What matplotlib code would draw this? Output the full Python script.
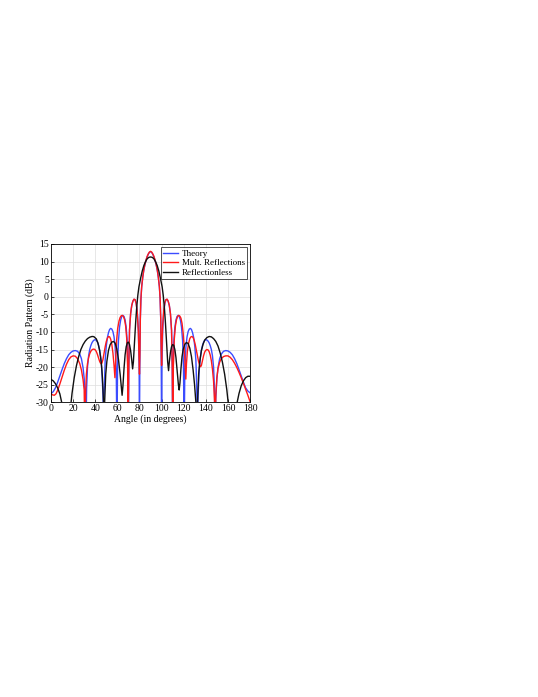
import numpy as np
import matplotlib
matplotlib.use("Agg")
from matplotlib import pyplot as plt

# dB vs angle
theory_deg = [0, 2, 4, 6, 8, 10, 12, 14, 16, 18, 20, 22, 24, 26, 27.5, 29, 30, 31, 31.6,
              32.2, 33, 34, 35, 36, 37, 38, 39, 40, 41, 42, 43, 44, 45, 46, 47, 47.6,
              48.2, 49, 50, 51, 52, 53, 54, 55, 56, 57, 58, 59, 59.6,
              60.2, 61, 62, 63, 64, 65, 66, 67, 68, 69, 69.7, 70,
              70.4, 71, 72, 73, 74, 75, 76, 77, 78, 79, 79.7, 80,
              80.3, 80.7, 81.3, 82, 83, 84, 85, 86, 87, 88, 89, 90,
              91, 92, 93, 94, 95, 96, 97, 98, 98.7, 99.3, 99.7, 100,
              100.3, 101, 102, 103, 104, 105, 106, 107, 108, 109, 109.6, 110,
              110.3, 111, 112, 113, 114, 115, 116, 117, 118, 119, 119.8, 120.4,
              121, 122, 123, 124, 125, 126, 127, 128, 129, 130, 131, 131.8, 132.4,
              133, 134, 135, 136, 137, 138, 139, 140, 141, 142, 143, 144, 145, 146, 147, 147.8, 148.4,
              149, 150, 151, 152.5, 154, 156, 158, 160, 162, 164, 166, 168, 170, 172, 174, 176, 178, 180]
theory_db = [-27.5, -27.0, -25.9, -24.3, -22.5, -20.7, -19.0, -17.6, -16.5, -15.8, -15.4, -15.3, -15.5, -16.3, -17.6, -20.2, -23.2, -29, -40,
             -26, -20, -16.8, -15, -13.9, -13.1, -12.6, -12.3, -12.2, -12.4, -12.9, -13.8, -15.2, -17.3, -21, -28, -40,
             -26, -18, -14, -11.6, -10.2, -9.3, -9.0, -9.2, -9.9, -11.4, -14.3, -21, -40,
             -20, -12.5, -8.6, -6.6, -5.6, -5.3, -5.6, -6.6, -8.7, -13, -24, -40,
             -20, -9.5, -4.8, -2.5, -1.3, -0.75, -0.8, -1.8, -4.2, -9.5, -20, -40,
             -20, -7, -1, 2.8, 5.6, 7.7, 9.2, 10.4, 11.4, 12.1, 12.6, 12.8,
             12.6, 12.1, 11.4, 10.4, 9.2, 7.7, 5.6, 2.8, -1, -7, -20, -40,
             -20, -9.5, -4.2, -1.8, -0.8, -0.75, -1.3, -2.5, -4.8, -9.5, -20, -40,
             -24, -13, -8.7, -6.6, -5.6, -5.3, -5.6, -6.6, -8.6, -12.5, -20, -40,
             -21, -14.3, -11.4, -9.9, -9.2, -9.0, -9.3, -10.2, -11.6, -14, -18, -26, -40,
             -28, -21, -17.3, -15.2, -13.8, -12.9, -12.4, -12.2, -12.3, -12.6, -13.1, -13.9, -15, -16.8, -20, -26, -40,
             -29, -23.2, -20.2, -17.6, -16.3, -15.5, -15.3, -15.4, -15.8, -16.5, -17.6, -19.0, -20.7, -22.5, -24.3, -25.9, -26.8, -27.3]

mult_deg = [0, 1.5, 3, 4.5, 6, 8, 10, 12, 14, 16, 18, 20, 22, 24, 26, 27.5, 29, 30, 30.6,
            31.3, 32, 33, 34, 35, 36, 37, 38, 39, 40, 41, 42, 43, 44, 45, 46, 47, 48, 49,
            50, 51, 52, 53, 54, 55, 56, 57, 57.8, 58.5, 59.3, 60.3, 61.5, 62.5, 63.5, 64.5,
            65.5, 66.5, 67.5, 68.5, 69.3, 69.7, 70.2, 71, 72, 73, 74, 75, 76, 77, 78, 79,
            79.6, 80, 80.4, 80.8, 81.3, 82, 83, 84, 85, 86, 87, 88, 89, 90,
            91, 92, 93, 94, 95, 96, 97, 98, 98.7, 99.2, 99.6, 100, 100.4, 101, 102, 103,
            104, 105, 106, 107, 108, 109, 109.7, 110.1, 110.6, 111.5, 112.5, 113.5, 114.5,
            115.5, 116.5, 117.5, 118.5, 119.5, 120.5, 121.3, 121.9, 122.5, 123.3, 124.5,
            125.5, 126.5, 127.5, 128.5, 129.5, 130.5, 131.5, 132.5, 133.5, 134.5, 135.3,
            136, 137, 138, 139, 140, 141, 142, 143, 144, 145, 146, 147, 147.8, 148.4,
            149, 150, 151, 152.5, 154, 156, 158, 160, 162, 164, 166, 168, 170, 172, 174, 176, 178, 180]
mult_db = [-27.6, -27.9, -28.0, -27.6, -26.6, -24.8, -22.8, -20.9, -19.2, -17.9, -17.1, -16.8, -16.9, -17.6, -19.0, -20.8, -23.6, -26.5, -40,
           -27, -22, -19, -17.3, -16.2, -15.5, -15.1, -14.9, -14.9, -15.1, -15.6, -16.4, -17.4, -18.4, -19.0, -18.9, -17.8, -16.0, -14.2,
           -12.7, -11.8, -11.3, -11.4, -12.1, -13.6, -16.0, -19.5, -23, -18, -12.5, -9, -6.9, -5.9, -5.4, -5.3,
           -5.6, -6.5, -8.3, -12, -20, -40, -22, -9.5, -4.8, -2.5, -1.3, -0.7, -0.8, -1.9, -4.5, -10,
           -18, -22, -16, -6, -0.5, 2.9, 5.7, 7.8, 9.3, 10.5, 11.5, 12.2, 12.7, 12.9,
           12.7, 12.2, 11.5, 10.5, 9.3, 7.8, 5.7, 2.9, -0.5, -6, -14, -19.5, -14, -8, -3.8, -1.6,
           -0.8, -0.7, -1.3, -2.5, -4.8, -9.5, -21, -40, -20, -12, -8.3, -6.5, -5.6,
           -5.3, -5.5, -6.1, -7.6, -10.3, -14.5, -19.5, -23.4, -19, -15.5, -13.1,
           -11.9, -11.4, -11.3, -11.6, -12.4, -13.7, -15.3, -17.0, -18.5, -19.5, -19.9,
           -19.5, -18.1, -16.7, -15.7, -15.2, -15.0, -15.1, -15.6, -16.6, -18.2, -20.6, -24, -29, -40,
           -28, -23, -20.5, -18.6, -17.6, -17.0, -16.8, -16.8, -17.2, -17.9, -18.9, -20.1, -21.5, -23.0, -24.6, -26.3, -28.0, -29.8]

refl_deg = [0, 2, 4, 6, 8, 10, 11, 12, 15, 17, 18, 19, 21, 23, 25, 27, 29, 31, 33, 35, 37, 38, 39,
            41, 42.5, 44, 45.5, 46.5, 47.5, 48, 48.5, 49.5, 50.5, 52, 53.5, 55, 56.5, 58, 59.5,
            61, 62.5, 63.5, 64.3, 65, 66, 67, 68, 69, 70, 71, 72, 73, 73.8, 74.5, 75.5, 76.5,
            77.5, 78.5, 79.5, 81, 82.5, 84, 85.5, 87, 88.5, 90,
            91.5, 93, 94.5, 96, 97.5, 99, 100.5, 101.5, 102.5, 103.5, 104.5, 105.5, 106.3, 107,
            108, 109, 110, 111, 112, 113, 114, 115.2, 115.9, 116.6, 117.5, 118.5, 119.5, 121,
            122.5, 124, 125.5, 127, 128.5, 129.8, 131, 131.8, 132.5, 133.5, 134.5, 136, 137.5,
            139, 141, 143, 145, 147, 149, 151, 153, 155, 157, 159, 160.5, 162, 165, 167, 168,
            170, 172, 174, 176, 178, 180]
refl_db = [-23.5, -23.9, -24.7, -25.9, -27.6, -30.5, -33, -40, -45, -38, -30.5, -27.5, -23, -19.6, -17, -15, -13.6, -12.6, -11.9, -11.5, -11.3, -11.3, -11.4,
           -12, -13.2, -15.3, -18.8, -23, -30, -40, -30, -22, -18.4, -15.2, -13.6, -12.9, -12.7, -13.2, -14.8,
           -17.8, -22, -25.5, -28, -25.5, -20.5, -16.5, -14.2, -13.1, -12.9, -13.6, -15.3, -18, -20.5, -18.5, -13, -7.5,
           -3, 0.4, 2.8, 5.2, 7.3, 8.9, 10.0, 10.8, 11.2, 11.3,
           11.2, 10.8, 10.0, 8.9, 7.3, 5.2, 2.8, 0.4, -3, -7.5, -13, -18.5, -21, -18.5,
           -15.8, -14.2, -13.6, -13.8, -15, -17.3, -20.8, -25, -26.5, -24.5, -20.5, -17, -15, -13.5,
           -13, -13.3, -14.6, -17, -20.8, -25, -30, -40, -30, -22, -18.5, -15.3, -13.5,
           -12.3, -11.6, -11.3, -11.4, -11.9, -12.7, -14, -16, -18.6, -22, -26.5, -31, -40, -45, -36, -30.5,
           -27.5, -25.3, -23.9, -23, -22.6, -22.6]

series_names = ["Theory", "Mult. Reflections", "Reflectionless"]
series_colors = ["#3b4cff", "#ff1a1a", "#111111"]

plt.rcParams['font.family'] = ['Liberation Serif', 'DejaVu Serif']
plt.rcParams['font.size'] = 7
plt.rcParams['axes.unicode_minus'] = False

fig = plt.figure(figsize=(5.38, 6.97), dpi=100)
ax = fig.add_axes([0.0948, 0.4228, 0.370, 0.2272])

ax.plot(theory_deg, theory_db, color=series_colors[0], lw=1.0, label=series_names[0])
ax.plot(mult_deg, mult_db, color=series_colors[1], lw=1.0, label=series_names[1])
ax.plot(refl_deg, refl_db, color=series_colors[2], lw=1.0, label=series_names[2])

ax.set_xlim(0, 180)
ax.set_ylim(-30, 15)
ax.set_xticks(np.arange(0, 181, 20))
ax.set_yticks(np.arange(-30, 16, 5))
ax.grid(True, color='#dddddd', lw=0.5)
ax.set_axisbelow(True)
ax.tick_params(direction='in', length=2, width=0.5, labelsize=7, pad=1.5)
for s in ax.spines.values():
    s.set_linewidth(0.6)

ax.set_xlabel("Angle (in degrees)", fontsize=7, labelpad=1)
ax.set_ylabel("Radiation Pattern (dB)", fontsize=7, labelpad=1)

leg = ax.legend(loc='upper right', fontsize=6.5, frameon=True, fancybox=False,
                edgecolor='black', handlelength=1.6, borderpad=0.25, labelspacing=0.15,
                handletextpad=0.4, borderaxespad=0.35)
leg.get_frame().set_linewidth(0.6)

fig.savefig("out.png", dpi=100)
